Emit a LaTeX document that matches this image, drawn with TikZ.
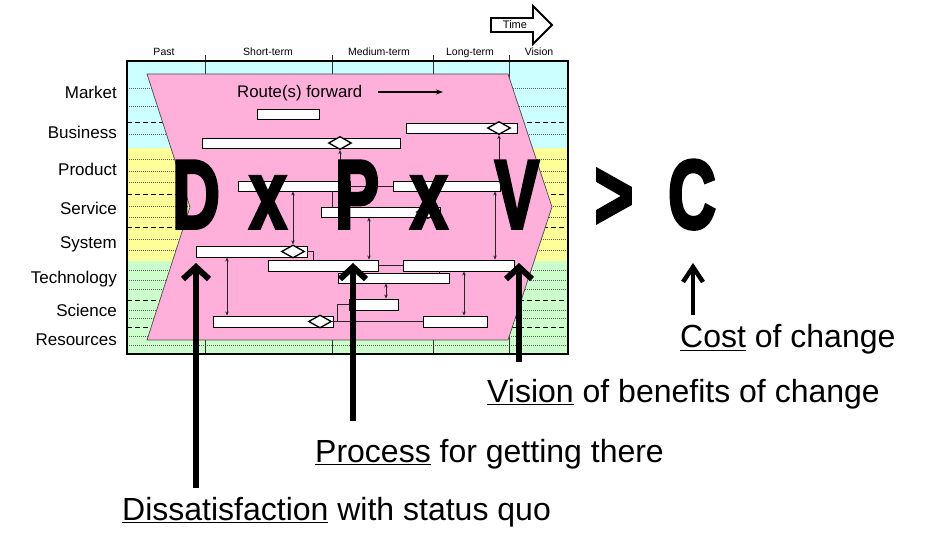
\documentclass[tikz,border=0pt]{standalone}
\usepackage{fontspec}
\usepackage{graphicx}
\setmainfont{Liberation Sans}
\newfontfamily\bigfam{Liberation Sans}[BoldFeatures={FakeBold=4}]
\usetikzlibrary{arrows.meta,shapes.geometric}
\definecolor{bgcyan}{RGB}{204,255,255}
\definecolor{bgyellow}{RGB}{255,255,153}
\definecolor{bggreen}{RGB}{204,255,204}
\definecolor{rpink}{RGB}{255,176,218}
\definecolor{gridgray}{RGB}{90,90,90}
\newcommand{\BigGlyph}[1]{{\bigfam\fontsize{97}{97}\selectfont\bfseries\scalebox{0.68}[1]{#1}}}
\tikzset{
  bar/.style={draw=black, fill=white, line width=0.9pt, inner sep=0pt, minimum height=10pt},
  dia/.style={diamond, draw=black, fill=white, line width=1.3pt, inner sep=0pt, minimum width=23pt, minimum height=13pt},
  conn/.style={draw=black!85, line width=0.6pt},
  sa/.style={conn, -{Stealth[length=4pt,width=3.5pt]}},
  da/.style={conn, {Stealth[length=4pt,width=3.5pt]}-{Stealth[length=4pt,width=3.5pt]}},
  dotrule/.style={draw=gridgray, line width=0.5pt, dash pattern=on 1pt off 1pt},
  dashrule/.style={draw=black, line width=0.8pt, dash pattern=on 5pt off 3pt},
  coldiv/.style={draw=black!80, line width=0.7pt},
  rowlab/.style={anchor=base east, inner sep=0pt, font=\fontsize{17}{17}\selectfont},
  collab/.style={anchor=base, inner sep=0pt, font=\fontsize{10.5}{10.5}\selectfont},
  biglet/.style={anchor=base, inner sep=0pt},
  caption/.style={anchor=base west, inner sep=0pt, font=\fontsize{32}{32}\selectfont},
  bigarrow/.style={draw=black, line width=6pt, -{Straight Barb[length=12pt,width=26pt]}},
  costshaft/.style={draw=black, line width=4.5pt},
  costhead/.style={draw=black, line width=4.5pt, line join=miter, line cap=butt}
}
\begin{document}
\begin{tikzpicture}[x=1pt,y=-1pt]
\useasboundingbox (0,0) rectangle (926,534);
% background bands
\fill[bgcyan] (127,61) rectangle (568,148);
\fill[bgyellow] (127,148) rectangle (568,261);
\fill[bggreen] (127,261) rectangle (568,354);
% grid rules
\foreach \yy in {88,106,134,159,171,182,206,217,239,250,270,280,289,310,318,336,345}
  \draw[dotrule] (127,\yy) -- (568,\yy);
\foreach \yy in {122,194,227,300,327}
  \draw[dashrule] (127,\yy) -- (568,\yy);
% column dividers
\foreach \xx in {205,332,433,509}
  \draw[coldiv] (\xx,55) -- (\xx,354);
% pink route shape
\filldraw[fill=rpink, draw=black!70, line width=0.7pt]
  (147,74) -- (508,74) -- (552,207) -- (508,340) -- (147,340) -- (190,207) -- cycle;
% frame
\draw[black, line width=2pt] (127,61) rectangle (568,354);
% column labels
\node[collab] (cPast) at (164,56) {Past};
\node[collab] (cShort) at (268,56) {Short-term};
\node[collab] (cMed) at (379,56) {Medium-term};
\node[collab] (cLong) at (470,56) {Long-term};
\node[collab] (cVis) at (539,56) {Vision};
% time arrow
\draw[black, line width=1.8pt, fill=white] (491,18) -- (533,18) -- (533,6) -- (552,25) -- (533,44) -- (533,32) -- (491,32) -- cycle;
\node[inner sep=0pt, font=\fontsize{11}{11}\selectfont] (time) at (515,25) {Time};
% row labels
\node[rowlab] (rMarket) at (117,99) {Market};
\node[rowlab] (rBusiness) at (117,139) {Business};
\node[rowlab] (rProduct) at (117,176) {Product};
\node[rowlab] (rService) at (117,215) {Service};
\node[rowlab] (rSystem) at (117,249) {System};
\node[rowlab] (rTech) at (117,284) {Technology};
\node[rowlab] (rScience) at (117,317) {Science};
\node[rowlab] (rRes) at (117,346) {Resources};
% route forward
\node[anchor=base west, inner sep=0pt, font=\fontsize{16.8}{16.8}\selectfont] (route) at (237,98) {Route(s) forward};
\coordinate (rfa) at (378,92);
\coordinate (rfb) at (443,92);
\draw[black, line width=1.2pt, -{Stealth[length=7pt,width=5pt]}] (rfa) -- (rfb);
% bars
\node[bar, minimum width=62pt] (bA) at (288,114) {};
\node[bar, minimum width=198pt] (bB) at (301,143) {};
\node[bar, minimum width=111pt] (bC) at (461.5,128) {};
\node[bar, minimum width=112pt] (bD) at (294,186) {};
\node[bar, minimum width=107pt] (bE) at (446.5,186) {};
\node[bar, minimum width=119pt] (bF) at (380.5,212) {};
\node[bar, minimum width=111pt, minimum height=11pt] (bG) at (251.5,251.5) {};
\node[bar, minimum width=110pt, minimum height=11pt] (bH2) at (323,265.5) {};
\node[bar, minimum width=111pt, minimum height=11pt] (bH) at (458.5,265.5) {};
\node[bar, minimum width=111pt] (bI) at (393.5,278) {};
\node[bar, minimum width=49pt, minimum height=11pt] (bJ) at (373.5,304.5) {};
\node[bar, minimum width=120pt, minimum height=11pt] (bK) at (273,321.5) {};
\node[bar, minimum width=64pt, minimum height=11pt] (bL) at (455,321.5) {};
% diamonds
\node[dia] (dB) at (340,143) {};
\node[dia] (dC) at (499,128) {};
\node[dia] (dF) at (428,212) {};
\node[dia] (dG) at (293,251.5) {};
\node[dia] (dK) at (320,321.5) {};
% connectors
\draw[sa] (dB.south |- bD.north) -- (dB.south);
\draw[sa] (dC.south |- bE.north) -- (dC.south);
\draw[conn] ([xshift=38pt]bD.south) -- ([xshift=38pt]bD.south |- bF.north);
\draw[conn] (bD.east) -- (bE.west);
\draw[da] (dG.north |- bD.south) -- (dG.north);
\draw[da] ([xshift=-11.5pt]bF.south) -- ([xshift=-11.5pt]bF.south |- bH2.north);
\draw[da] ([xshift=48.5pt]bE.south) -- ([xshift=48.5pt]bE.south |- bH.north);
\draw[conn] (bG.east) -| ([xshift=-10pt]bH2.north);
\draw[conn] (bH2.east) -- (bH.west);
\draw[conn] ([xshift=-19.5pt]bH.south) -- ([xshift=-19.5pt]bH.south |- bI.north);
\draw[da] ([xshift=-7.5pt]bI.south) -- ([xshift=-7.5pt]bI.south |- bJ.north);
\draw[da] ([xshift=-24.5pt]bG.south) -- ([xshift=-24.5pt]bG.south |- bK.north);
\draw[da] ([xshift=5.5pt]bH.south) -- ([xshift=5.5pt]bH.south |- bL.north);
\draw[conn] (dK.east) -- ([xshift=5pt]dK.east) |- (bJ.west);
\draw[conn] (dK.east) -- (dK.east -| bL.west);
% big formula
\node[biglet] (lD) at (196,228) {\BigGlyph{D}};
\node[biglet] (lx1) at (268,228) {\BigGlyph{x}};
\node[biglet] (lP) at (357,228) {\BigGlyph{P}};
\node[biglet] (lx2) at (429,228) {\BigGlyph{x}};
\node[biglet] (lV) at (517,228) {\BigGlyph{V}};
\node[biglet] (lgt) at (614,228) {\BigGlyph{>}};
\node[biglet] (lC) at (692,228) {\BigGlyph{C}};
% captions
\node[caption] (tCost) at (680,348) {\underline{Cost} of change};
\node[caption] (tVision) at (487,402) {\underline{Vision} of benefits of change};
\node[caption] (tProcess) at (315,462) {\underline{Process} for getting there};
\node[caption] (tDiss) at (122,520) {\underline{Dissatisfaction} with status quo};
% big arrows
\coordinate (a1s) at (196,488); \coordinate (a1e) at (196,263);
\coordinate (a2s) at (353,421); \coordinate (a2e) at (353,263);
\coordinate (a3s) at (519,362); \coordinate (a3e) at (519,263);
\coordinate (a4s) at (693,315); \coordinate (a4e) at (693,267);
\draw[bigarrow] (a1s) -- (a1e);
\draw[bigarrow] (a2s) -- (a2e);
\draw[bigarrow] (a3s) -- (a3e);
\draw[costshaft] (a4s) -- (a4e);
\draw[costhead] (a4e) ++(-10,15) -- (a4e) -- ++(10,15);
\end{tikzpicture}
\end{document}
